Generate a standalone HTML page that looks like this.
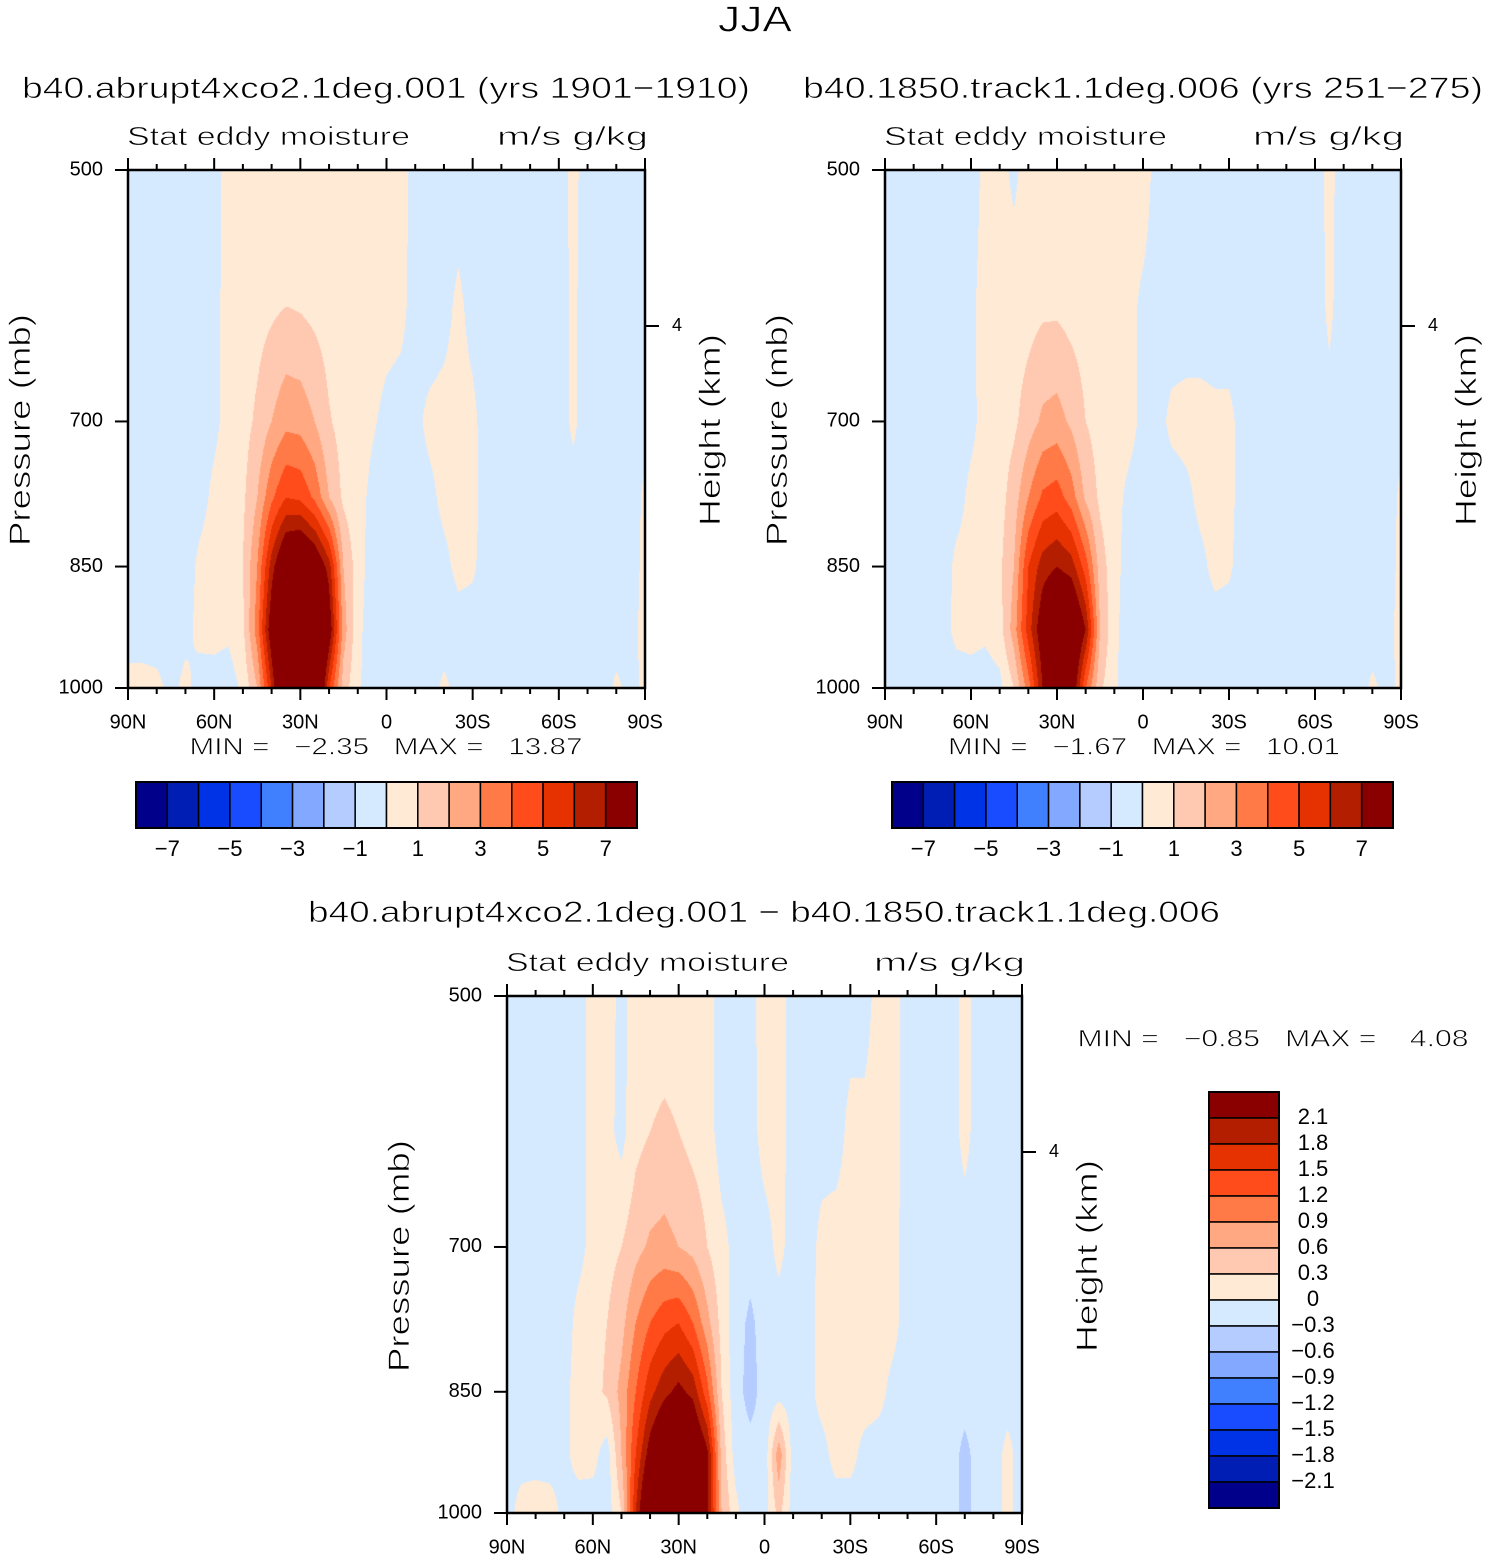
<!DOCTYPE html>
<html><head><meta charset="utf-8">
<style>
html,body{margin:0;padding:0;background:#fff;}
#wrap{position:relative;width:1493px;height:1561px;overflow:hidden;background:#fff;}
canvas{position:absolute;}
svg{position:absolute;left:0;top:0;}
text{font-family:"Liberation Sans",sans-serif;fill:#000;white-space:pre;}
text.big{stroke:#fff;stroke-width:0.7px;}
</style></head>
<body>
<div id="wrap">
<canvas id="c1" style="left:128px;top:170px" width="517" height="518"></canvas>
<canvas id="c2" style="left:885px;top:170px" width="516" height="518"></canvas>
<canvas id="c3" style="left:507px;top:996px" width="515" height="517"></canvas>
<svg id="s" width="1493" height="1561"></svg>
</div>
<script>
const LATS=[90,85,80,75,70,65,60,55,50,45,40,35,30,25,20,15,10,5,0,-5,-10,-15,-20,-25,-30,-35,-40,-45,-50,-55,-60,-65,-70,-75,-80,-85,-90];
const LEVELS=[500,600,700,775,850,925,1000];
const X_TICK_LABELS=["90N","60N","30N","0","30S","60S","90S"];
const X_TICK_LATS=[90,60,30,0,-30,-60,-90];
const P_TICKS=[500,700,850,1000];
const CB1_LABELS=["−7","−5","−3","−1","1","3","5","7"];
const CB3_LABELS=["2.1","1.8","1.5","1.2","0.9","0.6","0.3","0","−0.3","−0.6","−0.9","−1.2","−1.5","−1.8","−2.1"];
const COLORS=["#00008a","#001eb4","#0032e6","#1a4cff","#4080ff","#82a8ff","#b4ccff","#d6eaff","#ffead6","#ffc8b0","#ffa882","#ff7a46","#ff4c1a","#e63200","#b41e00","#8a0000"];

const P1=[
[-.5,-.5,-.5,-.5,-.5,-.5,-.5,.5,.5,.5,.5,.5,.5,.5,.5,.5,.5,.5,.5,.5,-.5,-.5,-.5,-.5,-.5,-.5,-.5,-.5,-.5,-.5,-.5,.3,-.5,-.5,-.5,-.5,-.5],
[-.5,-.5,-.5,-.5,-.5,-.5,-.3,.4,.5,.6,.8,1.0,0.9,.7,.5,.5,.5,.4,.3,.2,-.3,-.5,-.3,.2,-.3,-.5,-.5,-.5,-.5,-.5,-.5,.2,-.5,-.5,-.5,-.5,-.5],
[-.5,-.5,-.5,-.5,-.5,-.4,-.2,.3,.6,1.2,2.0,2.7,2.6,2.0,1.1,.6,.4,.1,-.2,-.3,-.2,.2,.3,.3,.2,-.4,-.5,-.5,-.5,-.5,-.5,.2,-.5,-.5,-.5,-.5,-.3],
[-.5,-.5,-.5,-.5,-.5,-.3,.2,.5,.8,2.0,3.8,5.0,4.8,3.8,2.0,.8,.3,-.2,-.4,-.5,-.4,-.2,.2,.3,.2,-.3,-.5,-.5,-.5,-.5,-.5,-.4,-.5,-.5,-.5,-.5,.2],
[-.5,-.5,-.5,-.5,-.4,.2,.4,.6,1.0,3.0,6.5,9,9.5,8.5,6.5,2.0,.5,-.5,-.6,-.5,-.5,-.4,-.2,.2,.1,-.3,-.5,-.5,-.5,-.5,-.5,-.5,-.5,-.5,-.5,-.5,.3],
[-.4,-.4,-.4,-.4,-.2,.2,.3,.2,.8,3.5,8,12,13,12,8,2.5,.3,-.6,-.7,-.5,-.4,-.5,-.5,-.3,-.3,-.4,-.5,-.5,-.5,-.5,-.5,-.8,-.6,-.5,-.5,-.3,.3],
[.3,.3,.2,-.2,.2,-.3,-.4,-.5,.2,2.0,6,11,12,11,5,1.5,.2,-.7,-.5,-.8,-.4,-.4,.2,-.3,-.4,-.5,-.5,-.5,-.5,-.5,-.5,-.8,-.5,-.5,.2,-.3,.2]];
const P2=[
[-.5,-.5,-.5,-.5,-.5,-.5,-.5,.3,.3,-.2,.4,.5,.5,.5,.5,.5,.5,.5,.5,-.4,-.5,-.5,-.5,-.5,-.5,-.5,-.5,-.5,-.5,-.5,-.5,.3,-.5,-.5,-.5,-.5,-.5],
[-.5,-.5,-.5,-.5,-.5,-.5,-.2,.4,.5,.5,.6,.8,.8,.6,.5,.5,.4,.3,-.2,-.4,-.5,-.5,-.5,-.5,-.5,-.5,-.5,-.5,-.5,-.5,-.5,.2,-.5,-.5,-.5,-.5,-.5],
[-.5,-.5,-.5,-.5,-.5,-.4,-.2,.3,.5,.8,1.5,2.2,2.4,1.8,1.0,.6,.4,.3,-.2,-.3,.2,.3,.3,.2,.2,-.3,-.5,-.5,-.5,-.5,-.5,-.3,-.5,-.5,-.5,-.5,-.3],
[-.5,-.5,-.5,-.5,-.5,-.3,.2,.3,.6,1.5,3.0,4.2,4.5,3.5,1.8,.8,.3,-.2,-.4,-.5,-.4,-.2,.2,.3,.2,-.3,-.5,-.5,-.5,-.5,-.5,-.4,-.5,-.5,-.5,-.5,.2],
[-.5,-.5,-.5,-.5,-.4,.2,.3,.5,.8,2.0,5.0,6.5,7.0,6.5,4.5,1.5,.4,-.5,-.6,-.5,-.5,-.4,-.2,.2,.1,-.3,-.5,-.5,-.5,-.5,-.5,-.5,-.5,-.5,-.5,-.5,.3],
[-.4,-.4,-.4,-.4,-.3,.2,.3,.2,.6,2.5,5.5,8,9.5,9.5,7,2.0,.3,-.6,-.7,-.5,-.4,-.5,-.5,-.3,-.3,-.4,-.5,-.5,-.5,-.5,-.5,-.6,-.5,-.5,-.5,-.3,.3],
[-.3,-.3,-.3,-.3,-.3,-.4,-.4,-.5,-.3,1.0,3.5,7,9,8.5,4,1.2,.2,-.7,-.5,-.8,-.4,-.4,-.3,-.3,-.4,-.5,-.5,-.5,-.5,-.5,-.5,-.8,-.5,-.5,.2,-.3,.2]];
const P3=[
[-.15,-.15,-.15,-.15,-.15,-.15,.15,.15,-.1,.15,.15,.15,.15,.15,.15,-.15,-.15,-.1,.15,.15,-.15,-.15,-.15,-.15,-.15,-.15,.15,.15,-.15,-.15,-.15,-.15,.1,-.15,-.15,-.15,-.15],
[-.15,-.15,-.15,-.15,-.15,-.15,.15,.1,-.1,.2,.3,.35,.3,.2,.15,-.15,-.15,-.15,.15,.15,-.15,-.15,-.15,-.15,.1,.1,.15,.15,-.15,-.15,-.15,-.15,.1,-.15,-.15,-.15,-.15],
[-.15,-.15,-.15,-.15,-.15,-.1,.1,.2,.3,.5,.65,.7,.6,.5,.3,.1,-.1,-.2,-.15,.1,-.15,-.15,.1,.15,.15,.15,.15,.1,-.15,-.15,-.15,-.15,-.15,-.15,-.15,-.15,-.15],
[-.15,-.15,-.15,-.15,-.15,.1,.2,.3,.5,.9,1.2,1.4,1.5,1.2,.7,.2,-.2,-.35,-.2,-.15,-.15,-.1,.1,.15,.15,.15,.15,.1,-.15,-.15,-.15,-.15,-.15,-.15,-.15,-.15,-.15],
[-.15,-.15,-.15,-.15,-.1,.15,.2,.35,.7,1.2,1.7,2.0,2.2,2.0,1.3,.3,-.2,-.4,-.2,-.15,-.15,-.1,.1,.15,.15,.15,.1,-.1,-.15,-.15,-.15,-.15,-.15,-.15,-.15,-.15,-.15],
[-.15,-.15,-.15,-.15,-.1,.15,.1,-.15,.6,1.5,2.3,2.8,3.0,2.8,2.2,.5,-.15,-.2,-.2,.8,-.15,-.1,-.1,.1,.1,-.1,-.15,-.15,-.15,-.15,-.15,-.15,-.4,-.15,-.15,.1,-.15],
[-.15,.15,.2,.15,-.1,-.2,-.15,-.15,.3,1.8,3.0,3.5,3.2,3.0,2.2,.6,.1,-.3,-.15,.4,-.15,-.1,-.15,-.15,-.15,-.15,-.15,-.15,-.15,-.15,-.15,-.15,-.4,-.15,-.15,.1,-.15]];

function hex(c){return [parseInt(c.substr(1,2),16),parseInt(c.substr(3,2),16),parseInt(c.substr(5,2),16)];}
const RGB=COLORS.map(hex);
function sample(F,lat,p){
  let fi=(LATS[0]-lat)/(LATS[0]-LATS[1]);fi=Math.max(0,Math.min(LATS.length-1.0001,fi));
  const i0=Math.floor(fi),tx=fi-i0;
  const lp=Math.log(p);let j0=0;
  while(j0<LEVELS.length-2&&Math.log(LEVELS[j0+1])<lp)j0++;
  const a=Math.log(LEVELS[j0]),b=Math.log(LEVELS[j0+1]);
  let ty=(lp-a)/(b-a);ty=Math.max(0,Math.min(1,ty));
  const v00=F[j0][i0],v01=F[j0][i0+1],v10=F[j0+1][i0],v11=F[j0+1][i0+1];
  return (v00*(1-tx)+v01*tx)*(1-ty)+(v10*(1-tx)+v11*tx)*ty;
}
function render(id,F,step){
  const c=document.getElementById(id),ctx=c.getContext('2d'),W=c.width,H=c.height;
  const img=ctx.createImageData(W,H);
  for(let y=0;y<H;y++){
    const p=500*Math.exp((y+0.5)/H*Math.LN2);
    for(let x=0;x<W;x++){
      const lat=90-180*(x+0.5)/W;
      const v=sample(F,lat,p);
      let k=Math.floor(v/step)+8;k=Math.max(0,Math.min(15,k));
      const o=(y*W+x)*4,col=RGB[k];
      img.data[o]=col[0];img.data[o+1]=col[1];img.data[o+2]=col[2];img.data[o+3]=255;
    }
  }
  ctx.putImageData(img,0,0);
}
render('c1',P1,1);render('c2',P2,1);render('c3',P3,0.3);

const NS="http://www.w3.org/2000/svg",S=document.getElementById('s');
function el(tag,attrs,txt){const e=document.createElementNS(NS,tag);for(const k in attrs)e.setAttribute(k,attrs[k]);if(txt!==undefined)e.textContent=txt;S.appendChild(e);return e;}
function txt(x,y,s,size,anchor,len,name,rot){
  const a={x:x,y:y,'font-size':size,'text-anchor':anchor||'start','dominant-baseline':'middle'};
  if(size>=24)a['class']='big';
  if(len){a.textLength=len;a.lengthAdjust='spacingAndGlyphs';}
  if(rot)a.transform='rotate(-90 '+x+' '+y+')';
  const e=el('text',a,s);
  
  
  return e;
}
txt(755,22,"JJA",36,'middle',74,'figure-title');

function panel(x0,y0,w,h,pfx){
  const xs=lat=>x0+(90-lat)/180*w, ys=p=>y0+Math.log(p/500)/Math.LN2*h;
  const r=el('rect',{x:x0,y:y0,width:w,height:h,fill:'none',stroke:'#000','stroke-width':2.5});
  
  
  for(let lat=90;lat>=-90;lat-=10){
    const major=lat%30===0,len=major?12:6,x=xs(lat);
    const t1=el('line',{x1:x,y1:y0,x2:x,y2:y0-len,stroke:'#000','stroke-width':2});
    
    
    const t2=el('line',{x1:x,y1:y0+h,x2:x,y2:y0+h+len,stroke:'#000','stroke-width':2});
    
    
  }
  X_TICK_LATS.forEach((lat,i)=>{txt(xs(lat),y0+h+35,X_TICK_LABELS[i],20,'middle',null,pfx+'-x-tick-label');});
  P_TICKS.forEach(p=>{
    const y=ys(p);
    const t=el('line',{x1:x0,y1:y,x2:x0-13,y2:y,stroke:'#000','stroke-width':2});
    
    
    txt(x0-25,y,String(p),20,'end',null,pfx+'-y-tick-label');
  });
  const yk=y0+156;
  const t=el('line',{x1:x0+w,y1:yk,x2:x0+w+14,y2:yk,stroke:'#000','stroke-width':2});
  
  
  txt(x0+w+32,yk,"4",18,'middle',null,pfx+'-height-tick-label');
  txt(x0-106,y0+260,"Pressure (mb)",30,'middle',232,pfx+'-y-axis-title',true);
  txt(x0+w+67,y0+260,"Height (km)",30,'middle',192,pfx+'-right-axis-title',true);
  txt(x0-1,y0-32,"Stat eddy moisture",26,'start',283,pfx+'-variable-label');
  txt(x0+w+3,y0-32,"m/s g/kg",26,'end',151,pfx+'-units-label');
}
panel(128,170,517,518,'panel1');
panel(885,170,516,518,'panel2');
panel(507,996,515,517,'panel3');

txt(386,90,"b40.abrupt4xco2.1deg.001 (yrs 1901−1910)",30,'middle',728,'panel1-title');
txt(1143,90,"b40.1850.track1.1deg.006 (yrs 251−275)",30,'middle',680,'panel2-title');
txt(764,914,"b40.abrupt4xco2.1deg.001 − b40.1850.track1.1deg.006",30,'middle',912,'panel3-title');
txt(386,748,"MIN =   −2.35   MAX =   13.87",24,'middle',393,'panel1-min-max');
txt(1144,748,"MIN =   −1.67   MAX =   10.01",24,'middle',392,'panel2-min-max');
txt(1273,1040,"MIN =   −0.85   MAX =    4.08",24,'middle',391,'panel3-min-max');

function hbar(x0,y0,w,h,pfx){
  const bw=w/16;
  COLORS.forEach((c,i)=>{
    const r=el('rect',{x:x0+i*bw,y:y0,width:bw,height:h,fill:c,stroke:'#000','stroke-width':1.5});
    
    
  });
  const f=el('rect',{x:x0,y:y0,width:w,height:h,fill:'none',stroke:'#000','stroke-width':2});
  
  
  CB1_LABELS.forEach((s,i)=>{txt(x0+bw*(1+2*i),y0+68,s,22,'middle',null,pfx+'-colorbar-label');});
}
hbar(136,782,501,46,'panel1');
hbar(892,782,501,46,'panel2');
(function(){
  const x0=1209,y0=1092,w=70,bh=26;
  COLORS.slice().reverse().forEach((c,i)=>{
    const r=el('rect',{x:x0,y:y0+i*bh,width:w,height:bh,fill:c,stroke:'#000','stroke-width':1.5});
    
    
  });
  const f=el('rect',{x:x0,y:y0,width:w,height:bh*16,fill:'none',stroke:'#000','stroke-width':2});
  
  
  CB3_LABELS.forEach((s,i)=>{txt(1313,y0+bh*(i+1),s,22,'middle',null,'panel3-colorbar-label');});
})();
</script>
</body></html>
